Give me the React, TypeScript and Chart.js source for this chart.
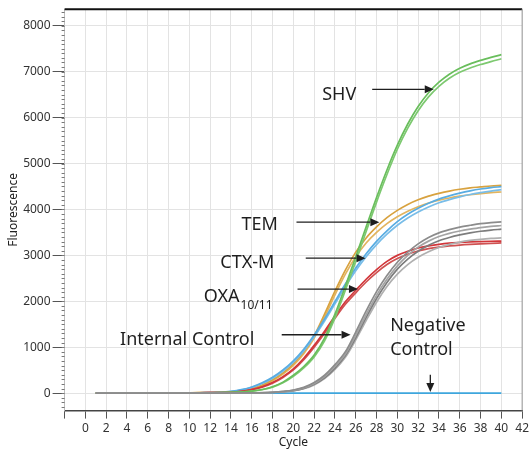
import React, { useEffect, useRef } from "react";
import { Chart, registerables } from "chart.js";
Chart.register(...registerables);

const FONT = '"Noto Sans", "DejaVu Sans", sans-serif';

const CYCLES = [1, 2, 3, 4, 5, 6, 7, 8, 9, 10, 11, 12, 13, 14, 15, 16, 17, 18, 19, 20, 21, 22, 23, 24, 25, 26, 27, 28, 29, 30, 31, 32, 33, 34, 35, 36, 37, 38, 39, 40];
const X_TICKS = [-2, 0, 2, 4, 6, 8, 10, 12, 14, 16, 18, 20, 22, 24, 26, 28, 30, 32, 34, 36, 38, 40, 42];
const Y_TICKS = [0, 1000, 2000, 3000, 4000, 5000, 6000, 7000, 8000];

const SHV_A = [0, 0, 0, 0, 1, 1, 2, 3, 4, 5, 6, 8, 11, 16, 26, 45, 80, 140, 240, 390, 580, 830, 1200, 1720, 2330, 2970, 3620, 4260, 4860, 5400, 5860, 6240, 6540, 6770, 6945, 7075, 7170, 7245, 7310, 7370];
const SHV_B = [0, 0, 0, 0, 1, 1, 2, 3, 4, 5, 6, 8, 10, 15, 24, 42, 74, 130, 225, 365, 550, 790, 1140, 1640, 2240, 2870, 3520, 4160, 4760, 5310, 5770, 6150, 6450, 6680, 6855, 6985, 7080, 7155, 7220, 7280];
const TEM_A = [0, 0, 1, 1, 2, 3, 4, 5, 6, 8, 10, 13, 18, 30, 55, 100, 175, 290, 440, 640, 900, 1250, 1720, 2220, 2680, 3070, 3380, 3620, 3820, 3980, 4110, 4210, 4290, 4350, 4400, 4440, 4470, 4490, 4510, 4525];
const TEM_B = [0, 0, 1, 1, 2, 3, 4, 5, 6, 8, 10, 12, 17, 28, 50, 92, 162, 270, 415, 605, 860, 1200, 1650, 2140, 2590, 2970, 3270, 3500, 3690, 3840, 3960, 4060, 4140, 4200, 4250, 4290, 4320, 4345, 4365, 4380];
const CTX_A = [0, 0, 0, 1, 1, 2, 3, 4, 5, 7, 9, 12, 17, 38, 75, 135, 225, 345, 505, 705, 955, 1265, 1615, 1995, 2375, 2725, 3035, 3305, 3535, 3735, 3895, 4025, 4135, 4225, 4295, 4355, 4405, 4445, 4475, 4495];
const CTX_B = [0, 0, 0, 1, 1, 2, 3, 4, 5, 7, 9, 11, 15, 34, 68, 125, 210, 325, 480, 675, 920, 1225, 1570, 1945, 2320, 2665, 2970, 3235, 3460, 3655, 3815, 3945, 4055, 4145, 4215, 4275, 4325, 4365, 4400, 4430];
const OXA_A = [0, 0, 1, 1, 2, 3, 4, 5, 6, 7, 9, 10, 12, 22, 42, 80, 140, 230, 360, 530, 760, 1040, 1350, 1680, 1990, 2240, 2480, 2690, 2870, 3000, 3090, 3160, 3205, 3240, 3265, 3280, 3292, 3300, 3307, 3312];
const OXA_B = [0, 0, 1, 1, 2, 3, 4, 5, 6, 7, 8, 10, 11, 20, 39, 75, 132, 218, 342, 505, 728, 1000, 1305, 1630, 1935, 2185, 2420, 2625, 2800, 2930, 3025, 3095, 3145, 3180, 3205, 3225, 3240, 3252, 3262, 3270];
const IC_A = [0, 0, 0, 0, 0, 0, 0, 0, 1, 1, 1, 2, 2, 3, 4, 5, 10, 20, 38, 68, 125, 230, 390, 620, 900, 1330, 1790, 2210, 2560, 2850, 3070, 3250, 3390, 3490, 3560, 3615, 3655, 3690, 3712, 3730];
const IC_B = [0, 0, 0, 0, 0, 0, 0, 0, 1, 1, 1, 2, 2, 3, 3, 4, 9, 18, 34, 62, 115, 210, 360, 580, 850, 1260, 1710, 2130, 2480, 2770, 3000, 3180, 3310, 3410, 3480, 3530, 3570, 3605, 3630, 3650];
const IC_C = [0, 0, 0, 0, 0, 0, 0, 0, 1, 1, 1, 1, 2, 2, 3, 4, 8, 16, 30, 56, 105, 195, 335, 545, 820, 1210, 1650, 2060, 2410, 2700, 2920, 3090, 3220, 3320, 3390, 3445, 3490, 3525, 3550, 3570];
const IC_D = [0, 0, 0, 0, 0, 0, 0, 0, 0, 1, 1, 1, 2, 2, 2, 3, 7, 14, 27, 50, 95, 180, 315, 515, 780, 1160, 1580, 1980, 2320, 2590, 2800, 2960, 3080, 3170, 3240, 3290, 3325, 3350, 3368, 3380];
const NEG = [0, 0, 0, 0, 0, 0, 0, 0, 0, 0, 0, 0, 0, 0, 0, 0, 0, 0, 0, 0, 0, 0, 0, 0, 0, 0, 0, 0, 0, 0, 0, 0, 0, 0, 0, 0, 0, 0, 0, 0];

// annotation labels (data coordinates: cycle, fluorescence baseline)
const LABEL_TEXT = ["SHV", "TEM", "CTX-M", "OXA", "Internal Control", "Negative", "Control"];
const LABEL_SUB = ["", "", "", "10/11", "", "", ""];
const LABEL_X = [22.77, 15.02, 12.97, 11.39, 3.33, 29.31, 29.31];
const LABEL_Y = [6390, 3550, 2720, 1990, 1040, 1360, 820];
// arrows (from -> to tip)
const ARROW_X1 = [27.58, 20.3, 21.19, 20.4, 18.88, 33.17];
const ARROW_Y1 = [6615, 3722, 2939, 2265, 1272, 402];
const ARROW_X2 = [33.5, 28.27, 26.94, 26.21, 25.5, 33.17];
const ARROW_Y2 = [6615, 3722, 2939, 2265, 1272, 26];

const SERIES = [
  { data: IC_A, color: "#8c8c8c" },
  { data: IC_B, color: "#a3a3a3" },
  { data: IC_C, color: "#7d7d7d" },
  { data: IC_D, color: "#b0b0b0" },
  { data: SHV_A, color: "#69be5c" },
  { data: SHV_B, color: "#7dc970" },
  { data: OXA_A, color: "#d2363a" },
  { data: OXA_B, color: "#cf5151" },
  { data: CTX_A, color: "#58ace2" },
  { data: CTX_B, color: "#79bde8" },
  { data: TEM_A, color: "#d8a23f" },
  { data: TEM_B, color: "#e2b45e" },
  { data: NEG, color: "#3ea6dd" },
];

const annotationPlugin = {
  id: "annos",
  afterDatasetsDraw(chart: any) {
    const { ctx, scales } = chart;
    const x = scales.x;
    const y = scales.y;
    ctx.save();
    ctx.fillStyle = "#1e1e1e";
    ctx.textBaseline = "alphabetic";
    ctx.textAlign = "left";
    LABEL_TEXT.forEach((t, i) => {
      const px = x.getPixelForValue(LABEL_X[i]);
      const py = y.getPixelForValue(LABEL_Y[i]);
      ctx.font = `18px ${FONT}`;
      ctx.fillText(t, px, py);
      if (LABEL_SUB[i]) {
        const w = ctx.measureText(t).width;
        ctx.font = `12px ${FONT}`;
        ctx.fillText(LABEL_SUB[i], px + w + 1, py + 7);
      }
    });
    ctx.strokeStyle = "#1e1e1e";
    ctx.lineWidth = 1.3;
    ARROW_X1.forEach((_, i) => {
      const x1 = x.getPixelForValue(ARROW_X1[i]);
      const y1 = y.getPixelForValue(ARROW_Y1[i]);
      const x2 = x.getPixelForValue(ARROW_X2[i]);
      const y2 = y.getPixelForValue(ARROW_Y2[i]);
      const ang = Math.atan2(y2 - y1, x2 - x1);
      const L = 9;
      const H = 4;
      const bx = x2 - L * Math.cos(ang);
      const by = y2 - L * Math.sin(ang);
      ctx.beginPath();
      ctx.moveTo(x1, y1);
      ctx.lineTo(bx, by);
      ctx.stroke();
      ctx.beginPath();
      ctx.moveTo(x2, y2);
      ctx.lineTo(bx - H * Math.sin(ang), by + H * Math.cos(ang));
      ctx.lineTo(bx + H * Math.sin(ang), by - H * Math.cos(ang));
      ctx.closePath();
      ctx.fill();
    });
    ctx.restore();
  },
};

const framePlugin = {
  id: "frame",
  afterDraw(chart: any) {
    const { ctx, chartArea, scales } = chart;
    const y = scales.y;
    ctx.save();
    ctx.strokeStyle = "#777";
    ctx.lineWidth = 1;
    for (let v = -300; v <= 8300; v += 100) {
      const py = Math.round(y.getPixelForValue(v)) + 0.5;
      ctx.beginPath();
      ctx.moveTo(chartArea.left - 3, py);
      ctx.lineTo(chartArea.left, py);
      ctx.stroke();
    }
    ctx.strokeStyle = "#111";
    ctx.lineWidth = 2;
    ctx.beginPath();
    ctx.moveTo(chartArea.left, chartArea.top);
    ctx.lineTo(chartArea.right, chartArea.top);
    ctx.stroke();
    ctx.strokeStyle = "#9a9a9a";
    ctx.lineWidth = 1;
    ctx.beginPath();
    ctx.moveTo(chartArea.right, chartArea.top);
    ctx.lineTo(chartArea.right, chartArea.bottom);
    ctx.stroke();
    ctx.restore();
  },
};

export default function App() {
  const ref = useRef<HTMLCanvasElement>(null);
  useEffect(() => {
    if (!ref.current) return;
    Chart.defaults.font.family = FONT;
    const chart = new Chart(ref.current, {
      type: "line",
      data: {
        datasets: SERIES.map((s) => ({
          data: CYCLES.map((c, i) => ({ x: c, y: s.data[i] })),
          borderColor: s.color,
          backgroundColor: s.color,
          borderWidth: 1.7,
          pointRadius: 0,
          cubicInterpolationMode: "monotone" as const,
          fill: false,
        })),
      },
      options: {
        animation: false,
        responsive: false,
        devicePixelRatio: 1,
        layout: { padding: { top: 9, right: 3.2, left: 0, bottom: 0 } },
        plugins: { legend: { display: false }, tooltip: { enabled: false } },
        scales: {
          x: {
            type: "linear",
            min: -2,
            max: 42,
            afterBuildTicks: (s: any) => {
              s.ticks = X_TICKS.map((v) => ({ value: v }));
            },
            afterFit: (s: any) => {
              s.height = 41.4;
            },
            ticks: {
              autoSkip: false,
              maxRotation: 0,
              padding: 3,
              color: "#333",
              font: { size: 12, family: FONT },
              callback: (v: any) => (v === -2 ? "" : String(v)),
            },
            grid: { color: "#e3e3e3", tickLength: 8, tickColor: "#555", lineWidth: 1 },
            border: { color: "#444", width: 1.5 },
            title: {
              display: true,
              text: "Cycle",
              color: "#222",
              font: { size: 12, family: FONT },
              padding: { top: 0, bottom: 2 },
            },
          },
          y: {
            type: "linear",
            min: -380,
            max: 8360,
            afterBuildTicks: (s: any) => {
              s.ticks = Y_TICKS.map((v) => ({ value: v }));
            },
            afterFit: (s: any) => {
              s.width = 64.6;
            },
            ticks: {
              padding: 2,
              color: "#333",
              font: { size: 12, family: FONT },
              callback: (v: any) => String(v),
            },
            grid: { color: "#e3e3e3", tickLength: 12, tickColor: "#555", lineWidth: 1 },
            border: { color: "#bdbdbd", width: 1 },
            title: {
              display: true,
              text: "Fluorescence",
              color: "#222",
              font: { size: 12, family: FONT },
              padding: { top: 6, bottom: 0 },
            },
          },
        },
      },
      plugins: [annotationPlugin, framePlugin],
    });
    return () => chart.destroy();
  }, []);
  return (
    <div style={{ position: "absolute", left: 0, top: 0, width: 532, height: 452, background: "#fff" }}>
      <canvas ref={ref} width={532} height={452} style={{ width: 532, height: 452, display: "block" }} />
    </div>
  );
}
